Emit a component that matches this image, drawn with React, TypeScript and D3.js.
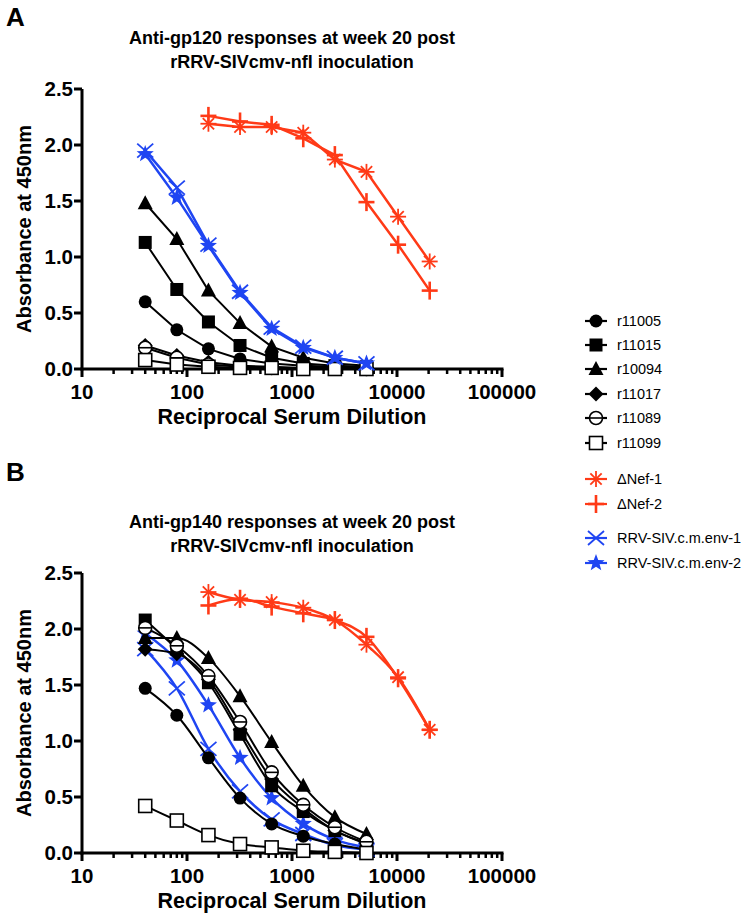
import React from "react";
import * as d3 from "d3";

const dilutions = [40, 80, 160, 320, 640, 1280, 2560, 5120, 10240, 20480];
const blackNames = ["r11005", "r11015", "r10094", "r11017", "r11089", "r11099"];
const redNames = ["ΔNef-1", "ΔNef-2"];
const blueNames = ["RRV-SIV.c.m.env-1", "RRV-SIV.c.m.env-2"];
const xTicks = [10, 100, 1000, 10000, 100000];
const yTicks = [0, 0.5, 1.0, 1.5, 2.0, 2.5];

// Panel A (gp120): black series at dilutions 40..5120
const aR11005 = [0.60, 0.35, 0.18, 0.09, 0.05, 0.03, 0.02, 0.01];
const aR11015 = [1.13, 0.71, 0.42, 0.21, 0.10, 0.05, 0.03, 0.02];
const aR10094 = [1.48, 1.16, 0.70, 0.41, 0.20, 0.10, 0.05, 0.03];
const aR11017 = [0.21, 0.12, 0.06, 0.03, 0.02, 0.01, 0.01, 0.01];
const aR11089 = [0.19, 0.10, 0.04, 0.02, 0.01, 0.01, 0.01, 0.00];
const aR11099 = [0.08, 0.04, 0.02, 0.01, 0.01, 0.00, 0.00, 0.00];
// red series at dilutions 160..20480
const aNef1 = [2.19, 2.16, 2.16, 2.11, 1.87, 1.76, 1.36, 0.96];
const aNef2 = [2.26, 2.21, 2.18, 2.06, 1.91, 1.49, 1.11, 0.70];
// blue series at dilutions 40..5120
const aEnv1 = [1.95, 1.62, 1.11, 0.69, 0.37, 0.20, 0.10, 0.05];
const aEnv2 = [1.92, 1.53, 1.10, 0.68, 0.36, 0.19, 0.10, 0.05];

// Panel B (gp140)
const bR11005 = [1.47, 1.23, 0.85, 0.49, 0.26, 0.15, 0.08, 0.03];
const bR11015 = [2.08, 1.82, 1.52, 1.06, 0.60, 0.37, 0.20, 0.08];
const bR10094 = [1.92, 1.92, 1.74, 1.40, 0.99, 0.60, 0.32, 0.17];
const bR11017 = [1.82, 1.78, 1.55, 1.10, 0.66, 0.40, 0.20, 0.09];
const bR11089 = [2.01, 1.85, 1.58, 1.17, 0.72, 0.43, 0.23, 0.10];
const bR11099 = [0.42, 0.29, 0.16, 0.08, 0.05, 0.02, 0.01, 0.00];
const bNef1 = [2.33, 2.26, 2.24, 2.19, 2.08, 1.86, 1.57, 1.10];
const bNef2 = [2.21, 2.27, 2.20, 2.14, 2.08, 1.93, 1.56, 1.10];
const bEnv1 = [1.82, 1.47, 0.93, 0.55, 0.30, 0.17, 0.07, 0.03];
const bEnv2 = [1.96, 1.72, 1.32, 0.85, 0.49, 0.26, 0.12, 0.05];

const RED = "#ff3a17";
const BLUE = "#1f45f2";
const FONT = "'Liberation Sans', Arial, Helvetica, sans-serif";

type Shape =
  | "circle" | "square" | "triangle" | "diamond" | "circleOpen" | "squareOpen"
  | "asterisk" | "plus" | "x" | "star";

const blackShapes: Shape[] = ["circle", "square", "triangle", "diamond", "circleOpen", "squareOpen"];
const redShapes: Shape[] = ["asterisk", "plus"];
const blueShapes: Shape[] = ["x", "star"];

function Marker({ shape, x, y, color }: { shape: Shape; x: number; y: number; color: string }) {
  const t = `translate(${x},${y})`;
  switch (shape) {
    case "circle":
      return <circle cx={x} cy={y} r={6.5} fill={color} />;
    case "square":
      return <rect x={x - 6.5} y={y - 6.5} width={13} height={13} fill={color} />;
    case "triangle":
      return <path transform={t} d="M0,-8 L7.5,6 L-7.5,6 Z" fill={color} />;
    case "diamond":
      return <path transform={t} d="M0,-7.5 L7.5,0 L0,7.5 L-7.5,0 Z" fill={color} />;
    case "circleOpen":
      return (
        <g transform={t}>
          <circle r={6.5} fill="white" stroke={color} strokeWidth={1.6} />
          <line x1={-6.5} x2={6.5} y1={0} y2={0} stroke={color} strokeWidth={1.6} />
        </g>
      );
    case "squareOpen":
      return (
        <rect x={x - 6.5} y={y - 6.5} width={13} height={13} fill="white" stroke={color} strokeWidth={1.6} />
      );
    case "asterisk": {
      const r = 8;
      return (
        <g transform={t} stroke={color} strokeWidth={1.8}>
          {[0, 45, 90, 135].map((a) => {
            const rad = (a * Math.PI) / 180;
            return (
              <line key={a} x1={-r * Math.cos(rad)} y1={-r * Math.sin(rad)} x2={r * Math.cos(rad)} y2={r * Math.sin(rad)} />
            );
          })}
        </g>
      );
    }
    case "plus":
      return (
        <g transform={t} stroke={color} strokeWidth={2.6}>
          <line x1={-8} x2={8} y1={0} y2={0} />
          <line x1={0} x2={0} y1={-9} y2={9} />
        </g>
      );
    case "x":
      return (
        <g transform={t} stroke={color} strokeWidth={1.8}>
          <line x1={-8} y1={-7} x2={8} y2={7} />
          <line x1={-8} y1={7} x2={8} y2={-7} />
        </g>
      );
    case "star": {
      const pts: string[] = [];
      for (let i = 0; i < 10; i++) {
        const r = i % 2 === 0 ? 9 : 3.8;
        const a = -Math.PI / 2 + (i * Math.PI) / 5;
        pts.push(`${(r * Math.cos(a)).toFixed(2)},${(r * Math.sin(a)).toFixed(2)}`);
      }
      return <polygon transform={t} points={pts.join(" ")} fill={color} />;
    }
  }
  return null;
}

type Series = { values: number[]; start: number; shape: Shape; color: string; width: number };

const xScale = d3.scaleLog().domain([10, 100000]).range([82, 502]);

function Panel({
  top, titleLines, letter, letterY, series, smooth,
}: {
  top: number; titleLines: string[]; letter: string; letterY: number; series: Series[]; smooth: boolean;
}) {
  const y = d3.scaleLinear().domain([0, 2.5]).range([top + 280, top]);
  const x0 = xScale.range()[0];
  const x1 = xScale.range()[1];
  const line = d3
    .line<[number, number]>()
    .x((d) => xScale(d[0]))
    .y((d) => y(d[1]))
    .curve(smooth ? d3.curveMonotoneX : d3.curveLinear);

  const minor: number[] = [];
  for (let dec = 10; dec < 100000; dec *= 10) {
    for (let k = 2; k <= 9; k++) minor.push(dec * k);
  }

  return (
    <g>
      <text x={6} y={letterY} fontFamily={FONT} fontWeight="bold" fontSize={26}>{letter}</text>
      {titleLines.map((l, i) => (
        <text key={i} x={292} y={top - 45 + i * 24} textAnchor="middle" fontFamily={FONT} fontWeight="bold" fontSize={18}>{l}</text>
      ))}
      {/* y axis */}
      <line x1={x0} x2={x0} y1={y(0) + 1.5} y2={y(2.5)} stroke="black" strokeWidth={3} />
      {yTicks.map((v) => (
        <g key={v}>
          <line x1={x0 - 8} x2={x0} y1={y(v)} y2={y(v)} stroke="black" strokeWidth={3} />
          <text x={x0 - 9} y={y(v) + 7} textAnchor="end" fontFamily={FONT} fontWeight="bold" fontSize={20.5}>{v.toFixed(1)}</text>
        </g>
      ))}
      <text
        transform={`translate(${31},${top + 140}) rotate(-90)`}
        textAnchor="middle" fontFamily={FONT} fontWeight="bold" fontSize={20}
      >Absorbance at 450nm</text>
      {/* x axis */}
      <line x1={x0 - 1.5} x2={x1 + 1.5} y1={y(0)} y2={y(0)} stroke="black" strokeWidth={3} />
      {xTicks.map((v) => (
        <g key={v}>
          <line x1={xScale(v)} x2={xScale(v)} y1={y(0)} y2={y(0) + 8} stroke="black" strokeWidth={3} />
          <text x={xScale(v)} y={y(0) + 30} textAnchor="middle" fontFamily={FONT} fontWeight="bold" fontSize={20.5}>{v}</text>
        </g>
      ))}
      {minor.map((v) => (
        <line key={v} x1={xScale(v)} x2={xScale(v)} y1={y(0)} y2={y(0) + 5} stroke="black" strokeWidth={2.5} />
      ))}
      <text x={292} y={y(0) + 55} textAnchor="middle" fontFamily={FONT} fontWeight="bold" fontSize={21.5}>Reciprocal Serum Dilution</text>
      {/* series */}
      {series.map((s, i) => {
        const pts: [number, number][] = s.values.map((v, j) => [dilutions[s.start + j], v]);
        return (
          <g key={i}>
            <path d={line(pts) || ""} fill="none" stroke={s.color} strokeWidth={s.width} />
            {pts.map((p, j) => (
              <Marker key={j} shape={s.shape} x={xScale(p[0])} y={y(p[1])} color={s.color} />
            ))}
          </g>
        );
      })}
    </g>
  );
}

function Legend() {
  const items: { name: string; shape: Shape; color: string; y: number }[] = [];
  const blackY = [321, 345, 369, 394, 418, 443];
  blackNames.forEach((n, i) => items.push({ name: n, shape: blackShapes[i], color: "black", y: blackY[i] }));
  const redY = [479, 504];
  redNames.forEach((n, i) => items.push({ name: n, shape: redShapes[i], color: RED, y: redY[i] }));
  const blueY = [538, 563];
  blueNames.forEach((n, i) => items.push({ name: n, shape: blueShapes[i], color: BLUE, y: blueY[i] }));
  return (
    <g>
      {items.map((it) => (
        <g key={it.name}>
          <line x1={585} x2={607} y1={it.y} y2={it.y} stroke={it.color} strokeWidth={2.2} />
          <Marker shape={it.shape} x={596} y={it.y} color={it.color} />
          <text x={617} y={it.y + 5} fontFamily={FONT} fontSize={14.5}>{it.name}</text>
        </g>
      ))}
    </g>
  );
}

export default function App() {
  const seriesA: Series[] = [
    ...[aR11005, aR11015, aR10094, aR11017, aR11089, aR11099].map((v, i) => ({
      values: v, start: 0, shape: blackShapes[i], color: "black", width: 2,
    })),
    { values: aNef1, start: 2, shape: "asterisk" as Shape, color: RED, width: 2.5 },
    { values: aNef2, start: 2, shape: "plus" as Shape, color: RED, width: 2.5 },
    { values: aEnv1, start: 0, shape: "x" as Shape, color: BLUE, width: 2.5 },
    { values: aEnv2, start: 0, shape: "star" as Shape, color: BLUE, width: 2.5 },
  ];
  const seriesB: Series[] = [
    { values: bEnv1, start: 0, shape: "x" as Shape, color: BLUE, width: 2.5 },
    { values: bEnv2, start: 0, shape: "star" as Shape, color: BLUE, width: 2.5 },
    ...[bR11005, bR11015, bR10094, bR11017, bR11089, bR11099].map((v, i) => ({
      values: v, start: 0, shape: blackShapes[i], color: "black", width: 2,
    })),
    { values: bNef1, start: 2, shape: "asterisk" as Shape, color: RED, width: 2.5 },
    { values: bNef2, start: 2, shape: "plus" as Shape, color: RED, width: 2.5 },
  ];
  return (
    <svg width={741} height={917} style={{ position: "absolute", left: 0, top: 0, background: "white" }}>
      <rect width={741} height={917} fill="white" />
      <Panel top={89} letter="A" letterY={26} titleLines={["Anti-gp120 responses at week 20 post", "rRRV-SIVcmv-nfl inoculation"]} series={seriesA} smooth={false} />
      <Panel top={573} letter="B" letterY={481} titleLines={["Anti-gp140 responses at week 20 post", "rRRV-SIVcmv-nfl inoculation"]} series={seriesB} smooth={true} />
      <Legend />
    </svg>
  );
}
